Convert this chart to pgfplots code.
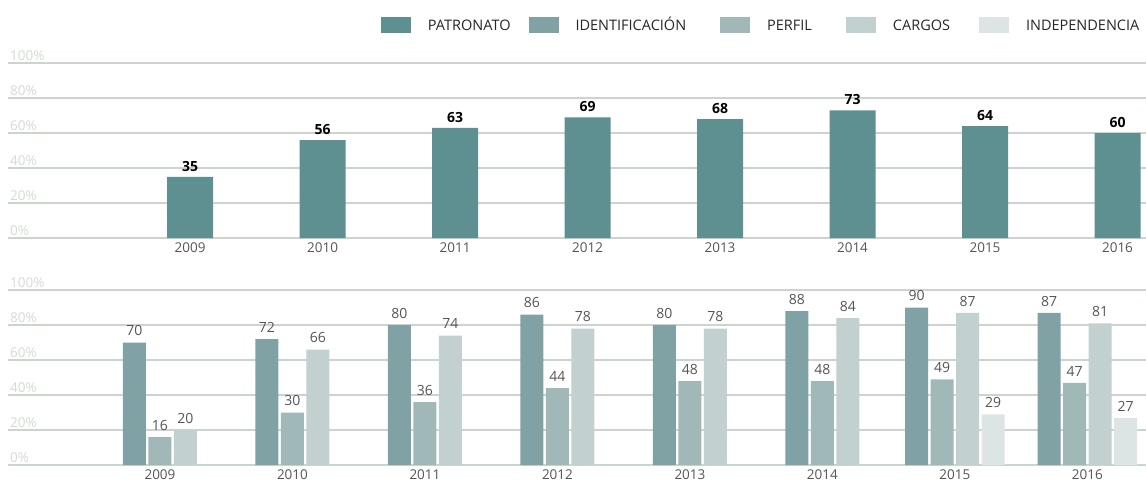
\documentclass[border=0pt]{standalone}
\usepackage{fontspec}
\setmainfont{Open Sans}
\usepackage{pgfplots}
\pgfplotsset{compat=1.18}
\definecolor{cPat}{HTML}{5E8F91}
\definecolor{cIde}{HTML}{80A2A5}
\definecolor{cPer}{HTML}{A1B8B9}
\definecolor{cCar}{HTML}{C2D0D0}
\definecolor{cInd}{HTML}{DCE5E3}
\definecolor{gridc}{HTML}{CAD5CC}
\definecolor{ylab}{HTML}{D3DAD3}
\definecolor{txt}{HTML}{555555}

\pgfplotsset{
  base/.style={
    scale only axis, width=1138pt, height=175pt,
    /pgf/number format/assume math mode=true,
    ymin=0, ymax=100, ytick={0,20,40,60,80,100},
    yticklabels={0\%,20\%,40\%,60\%,80\%,100\%},
    yticklabel style={anchor=south west, xshift=1pt, yshift=1pt, inner sep=1pt,
      color=ylab, font=\fontsize{13.5}{15}\selectfont},
    xtick={0,1,2,3,4,5,6,7},
    xticklabels={2009,2010,2011,2012,2013,2014,2015,2016},
    xticklabel style={color=txt, font=\fontsize{13.5}{15}\selectfont, yshift=3pt},
    axis line style={draw=none}, tick style={draw=none},
    ymajorgrids, major grid style={color=gridc, line width=1.6pt},
    ybar, clip=false,
  },
}

\begin{document}
\begin{tikzpicture}
\useasboundingbox (0,0) rectangle (1146pt,-482pt);
% upper panel
\begin{axis}[base, at={(8pt,-238pt)}, anchor=south west,
  xmin=-1.374, xmax=7.215, bar width=46pt,
  nodes near coords,
  every node near coord/.append style={font=\fontsize{14}{16}\selectfont\bfseries,
    color=black, yshift=2pt},
  legend columns=5,
  legend style={draw=none, fill=none, at={(0.997,1.217)}, anchor=east,
    font=\fontsize{14.5}{16}\selectfont, text=black!85,
    nodes={inner sep=0pt, text height=10.5pt, text depth=0pt, anchor=west},
    /tikz/every odd column/.append style={column sep=17pt},
    /tikz/every even column/.append style={column sep=18pt}},
  legend image code/.code={\fill[#1] (0pt,-8pt) rectangle (30pt,8pt);},
  ]
\addplot[fill=cPat, draw=none, bar shift=0pt] coordinates
  {(0,35)(1,56)(2,63)(3,69)(4,68)(5,73)(6,64)(7,60)};
\addlegendentry{PATRONATO}
\addlegendimage{fill=cIde, draw=none}
\addlegendentry{IDENTIFICACIÓN\rule{16pt}{0pt}}
\addlegendimage{fill=cPer, draw=none}
\addlegendentry{PERFIL\rule{16pt}{0pt}}
\addlegendimage{fill=cCar, draw=none}
\addlegendentry{CARGOS\rule{11pt}{0pt}}
\addlegendimage{fill=cInd, draw=none}
\addlegendentry{INDEPENDENCIA}
\end{axis}

% lower panel
\begin{axis}[base, at={(8pt,-465pt)}, anchor=south west,
  xmin=-1.147, xmax=7.442, bar width=23pt,
  nodes near coords,
  every node near coord/.append style={font=\fontsize{14}{16}\selectfont,
    color=txt, yshift=3pt},
  ]
% 2009-2014: three bars per group
\addplot[fill=cIde, draw=none, bar shift=-25.5pt] coordinates
  {(0,70)(1,72)(2,80)(3,86)(4,80)(5,88)};
\addplot[fill=cPer, draw=none, bar shift=0pt] coordinates
  {(0,16)(1,30)(2,36)(3,44)(4,48)(5,48)};
\addplot[fill=cCar, draw=none, bar shift=25.5pt] coordinates
  {(0,20)(1,66)(2,74)(3,78)(4,78)(5,84)};
% 2015-2016: four bars per group
\addplot[fill=cIde, draw=none, bar shift=-38.25pt] coordinates {(6,90)(7,87)};
\addplot[fill=cPer, draw=none, bar shift=-12.75pt] coordinates {(6,49)(7,47)};
\addplot[fill=cCar, draw=none, bar shift=12.75pt] coordinates {(6,87)(7,81)};
\addplot[fill=cInd, draw=none, bar shift=38.25pt] coordinates {(6,29)(7,27)};
\end{axis}
\end{tikzpicture}
\end{document}
